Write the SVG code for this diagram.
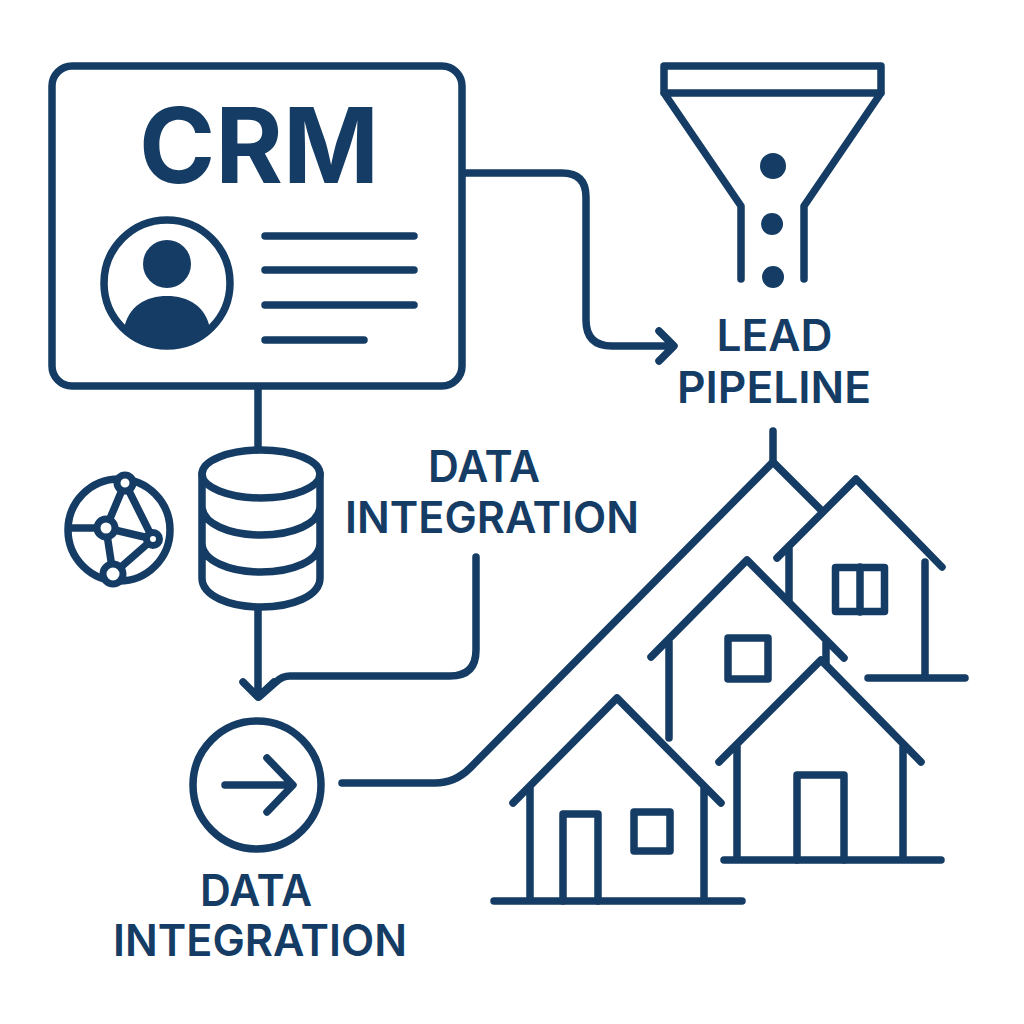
<svg xmlns="http://www.w3.org/2000/svg" width="1024" height="1024" viewBox="0 0 1024 1024">
<style>
.l{fill:none;stroke:#143c64;stroke-width:7.500;stroke-linecap:round;stroke-linejoin:round}
.f{fill:#143c64}
text{font-family:"Inter","Liberation Sans",Arial,sans-serif;fill:#143c64;text-anchor:middle;font-weight:600}
</style>
<rect width="1024" height="1024" fill="#fff"/>
<g id="crm">
<rect class="l" x="52" y="66" width="410" height="320" rx="20"/>
<text x="259" y="183" font-size="104" style="font-weight:700" textLength="240" lengthAdjust="spacingAndGlyphs">CRM</text>
<circle class="l" cx="167" cy="283" r="63"/>
<circle class="f" cx="167" cy="264" r="24"/>
<path class="f" d="M124 329C128 306 146 296 167 296S206 306 210 329C198 341 183 347 167 347S136 341 124 329Z"/>
<path class="l" d="M265 236H414M265 270H414M265 305H414M265 340H364"/>
</g>
<g id="funnel">
<path class="l" d="M664 66H881V93H664ZM664 93L741 206V279M881 93L804 206V279"/>
<circle class="f" cx="773" cy="166" r="13"/>
<circle class="f" cx="772" cy="224" r="11"/>
<circle class="f" cx="773" cy="277" r="11"/>
<text x="774.500" y="351" font-size="44" textLength="116" lengthAdjust="spacingAndGlyphs">LEAD</text>
<text x="774" y="403" font-size="44" textLength="194" lengthAdjust="spacingAndGlyphs">PIPELINE</text>
</g>
<g id="database">
<ellipse class="l" cx="261" cy="474" rx="59" ry="24"/>
<path class="l" d="M202 474V578C202 596 230 607 261 607S320 596 320 578V474M202 506C202 524 230 535 261 535S320 524 320 506M202 543C202 561 230 572 261 572S320 561 320 543"/>
</g>
<g id="network">
<circle class="l" cx="119" cy="530" r="51"/>
<path class="l" d="M125 483L106 528L113 574L153 539L125 483M106 528L153 539M72 528H106"/>
<g fill="#fff" stroke="#143c64" stroke-width="7"><circle cx="125" cy="483" r="8"/><circle cx="106" cy="528" r="9"/><circle cx="153" cy="539" r="6.500"/><circle cx="113" cy="574" r="10"/></g>
</g>
<text id="label-data-1" x="484" y="482" font-size="44" textLength="112" lengthAdjust="spacingAndGlyphs">DATA</text>
<text id="label-int-1" x="492" y="533" font-size="44" textLength="294" lengthAdjust="spacingAndGlyphs">INTEGRATION</text>
<g id="integration">
<circle class="l" cx="257" cy="785" r="64"/>
<path class="l" d="M225 785H292M267 758L293 785L267 812"/>
<text x="256" y="906" font-size="44" textLength="112" lengthAdjust="spacingAndGlyphs">DATA</text>
<text x="260" y="956" font-size="44" textLength="294" lengthAdjust="spacingAndGlyphs">INTEGRATION</text>
</g>
<g id="connectors">
<path class="l" d="M465 173H562Q586 173 586 197V320Q586 346 612 346H672M659 331L674 346L659 361"/>
<path class="l" d="M258 388V448M258 610V696M243 682L258 697L274 682"/>
<path class="l" d="M476 557V650Q476 676 450 676H290Q282 676 276 682L259 697"/>
<path class="l" d="M342 783H435Q455 783 470 768L773 462V431"/>
</g>
<g id="houses">
<path class="l" d="M773 462L822 511M777 558L856 479L942 567M789 546V600M925 562V678M868 678H965"/>
<rect class="l" x="835.500" y="567.500" width="49" height="44"/>
<path class="l" d="M860 567V612"/>
<path class="l" d="M651 657L747 560L844 658M669 642V738M826 640V664"/>
<rect class="l" x="728" y="638" width="40" height="41"/>
<path class="l" d="M719 762L821 660L921 762M737 746V860M903 746V860M724 860H941"/>
<path class="l" d="M797 860V775H844V860"/>
<path class="l" d="M513 803L617 698L721 803M530 786V901M704 786V901M494 901H742"/>
<path class="l" d="M563 901V814H598V901"/>
<rect class="l" x="634" y="812" width="36" height="39"/>
</g>
</svg>
